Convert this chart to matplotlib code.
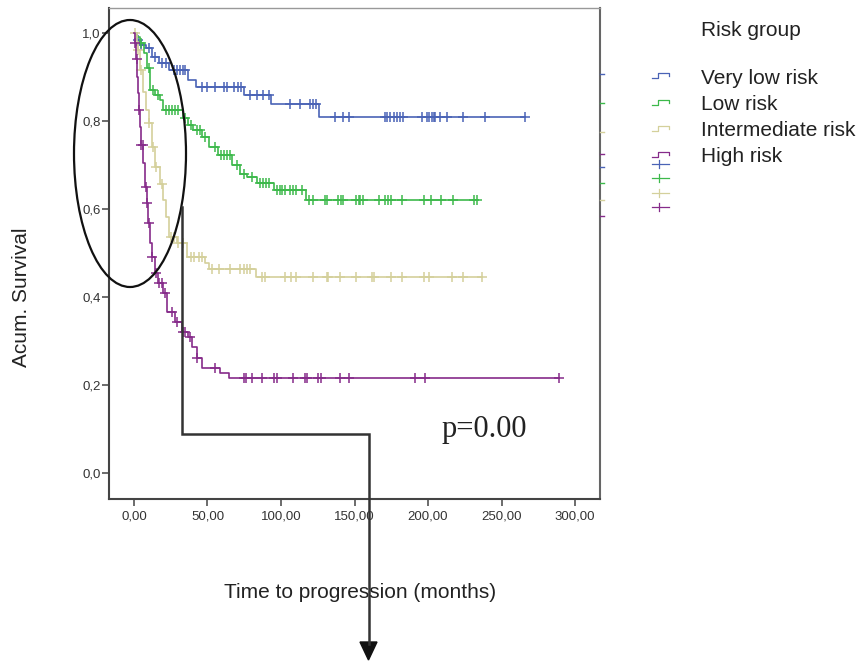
import matplotlib
matplotlib.use("Agg")
import matplotlib.pyplot as plt
import numpy as np
from matplotlib.patches import Ellipse, Polygon
from matplotlib import font_manager
from matplotlib.ticker import FuncFormatter

# Kaplan-Meier curves: step times, survival after each step, censor times
groups = ["Very low risk", "Low risk", "Intermediate risk", "High risk"]
colors = ["#4a63b6", "#3db94b", "#d4d09b", "#862b8a"]

vlow_t = [0, 2, 4, 8, 12, 17, 24, 37, 42, 75, 93, 126]
vlow_s = [1.0, 0.985, 0.973, 0.965, 0.946, 0.931, 0.917, 0.893, 0.877, 0.859, 0.838, 0.809]
vlow_c = [3, 5, 10, 14, 19, 22, 27, 29, 31, 33, 35, 46, 50, 55, 61, 63, 68, 71, 73,
          79, 84, 88, 92, 106, 113, 120, 122, 124, 137, 142, 146, 171, 172, 174, 177,
          179, 181, 183, 196, 199, 201, 203, 204, 205, 208, 213, 224, 239, 266]

low_t = [0, 2, 4, 7, 9, 11, 14, 18, 20, 33, 37, 40, 46, 51, 57, 67, 72, 77, 84, 95, 117]
low_s = [1.0, 0.992, 0.977, 0.954, 0.92, 0.87, 0.86, 0.848, 0.825, 0.807, 0.79, 0.78,
         0.764, 0.742, 0.723, 0.70, 0.68, 0.673, 0.659, 0.643, 0.62]
low_c = [5, 10, 13, 16, 22, 24, 26, 28, 30, 35, 39, 43, 45, 48, 55, 59, 61, 63, 65, 70,
         75, 80, 86, 88, 90, 92, 97, 99, 101, 103, 106, 108, 110, 114, 119, 122, 130,
         131, 139, 141, 142, 151, 153, 154, 156, 167, 171, 173, 175, 182, 197, 202,
         209, 217, 231, 233]

inter_t = [0, 2, 3, 4, 6, 8, 10, 12, 14, 18, 20, 22, 24, 29, 36, 48, 51, 83]
inter_s = [1.0, 0.98, 0.961, 0.916, 0.867, 0.825, 0.795, 0.742, 0.696, 0.658, 0.62,
           0.583, 0.537, 0.522, 0.49, 0.477, 0.463, 0.445]
inter_c = [1, 3, 5, 10, 13, 15, 19, 25, 27, 30, 33, 39, 41, 44, 46, 53, 58, 65, 72,
           75, 77, 79, 87, 89, 103, 107, 110, 122, 131, 132, 140, 151, 162, 163, 175,
           182, 197, 201, 216, 224, 237]

high_t = [0, 0.7, 1.5, 2.3, 2.8, 3.3, 4.1, 4.8, 6.3, 7.5, 8.6, 9.7, 10.9, 12, 14.3,
          16.6, 20, 22.2, 28, 32.4, 37, 39.2, 42.6, 46, 58.5, 64.8]
high_s = [1.0, 0.977, 0.94, 0.90, 0.863, 0.825, 0.787, 0.745, 0.704, 0.651, 0.613,
          0.568, 0.522, 0.49, 0.454, 0.432, 0.41, 0.367, 0.344, 0.321, 0.31, 0.287,
          0.261, 0.238, 0.227, 0.215]
high_c = [1, 2, 3.5, 5, 6, 8, 9, 10, 12.5, 15, 17, 19, 21, 26, 29, 33, 35, 38, 43, 55,
          75, 76, 80, 87, 95, 97, 108, 116, 118, 125, 127, 140, 146, 191, 198, 289]

curves = [(vlow_t, vlow_s, vlow_c), (low_t, low_s, low_c),
          (inter_t, inter_s, inter_c), (high_t, high_s, high_c)]

x_ticks = [0, 50, 100, 150, 200, 250, 300]
y_ticks = [0.0, 0.2, 0.4, 0.6, 0.8, 1.0]

avail = {f.name for f in font_manager.fontManager.ttflist}
sans = next(f for f in ["Liberation Sans", "Arial", "DejaVu Sans"] if f in avail)
serif = next(f for f in ["Liberation Serif", "DejaVu Serif"] if f in avail)
plt.rcParams["font.family"] = [sans, "DejaVu Sans"]

fig = plt.figure(figsize=(8.65, 6.61), dpi=100)
ax = fig.add_axes([109 / 865, 1 - 499 / 661, 491 / 865, 491 / 661])

for (t, s, c), col in zip(curves, colors):
    t = np.array(t, float)
    s = np.array(s, float)
    c = np.array(c, float)
    xs = np.append(t, c.max())
    ys = np.append(s, s[-1])
    ax.step(xs, ys, where="post", color=col, lw=1.2, zorder=3)
    cs = s[np.searchsorted(t, c, side="right") - 1]
    ax.plot(c, cs, ls="none", marker="+", ms=7, mew=1.1, color=col, zorder=3)

ax.set_xlim(-17, 317)
ax.set_ylim(-0.059, 1.057)
ax.set_xticks(x_ticks)
ax.set_yticks(y_ticks)
ax.xaxis.set_major_formatter(FuncFormatter(lambda v, p: f"{v:.2f}".replace(".", ",")))
ax.yaxis.set_major_formatter(FuncFormatter(lambda v, p: f"{v:.1f}".replace(".", ",")))
ax.tick_params(direction="out", length=5, width=1.1, color="#444", labelsize=9.5,
               labelcolor="#333")
ax.tick_params(axis="x", pad=3)
ax.tick_params(axis="y", pad=1)
for side in ["left", "bottom"]:
    ax.spines[side].set_color("#444")
    ax.spines[side].set_linewidth(1.5)
ax.spines["right"].set_color("#666")
ax.spines["right"].set_linewidth(1.5)
ax.spines["top"].set_color("#999")
ax.spines["top"].set_linewidth(1.0)

# overlay in pixel coordinates for legend, labels and hand-drawn annotations
ov = fig.add_axes([0, 0, 1, 1])
ov.set_xlim(0, 865)
ov.set_ylim(661, 0)
ov.axis("off")

txt = dict(fontsize=15, color="#222", va="center")
ov.text(701, 30, "Risk group", **txt)
rows = [78, 105, 131, 157]
for name, col, y in zip(groups, colors, rows):
    ov.text(701, y, name, **txt)
    g = y - 3
    ov.plot([652, 658, 658, 669, 669], [g + 3, g + 3, g - 2, g - 2, g + 1], color=col, lw=0.9)
for col, y in zip(colors, [164, 178, 193, 207]):
    ov.plot([652, 669], [y, y], color=col, lw=0.9)
    ov.plot([659, 659], [y - 4, y + 4], color=col, lw=0.9)

# little coloured stubs on the right spine
for col, y in zip(colors + colors, [74, 103, 132, 154, 167, 183, 200, 216]):
    ov.plot([600, 604], [y, y], color=col, lw=1.0)

ov.text(22, 297, "Acum. Survival", rotation=90, ha="center", **txt)
ov.text(360, 592, "Time to progression (months)", ha="center", **txt)
ov.text(442, 437, "p=0.00", fontsize=22, family=serif, color="#222", va="baseline")

ov.add_patch(Ellipse((130, 153.5), 112, 267, fill=False, ec="#111", lw=1.6))
ov.plot([181.5, 181.5, 368.5, 368.5], [207, 434, 434, 644], color="#333", lw=1.8,
        solid_joinstyle="miter")
ov.add_patch(Polygon([[360, 642], [377, 642], [368.5, 660]], closed=True, fc="#111", ec="#111"))

fig.savefig("out.png", dpi=100)
